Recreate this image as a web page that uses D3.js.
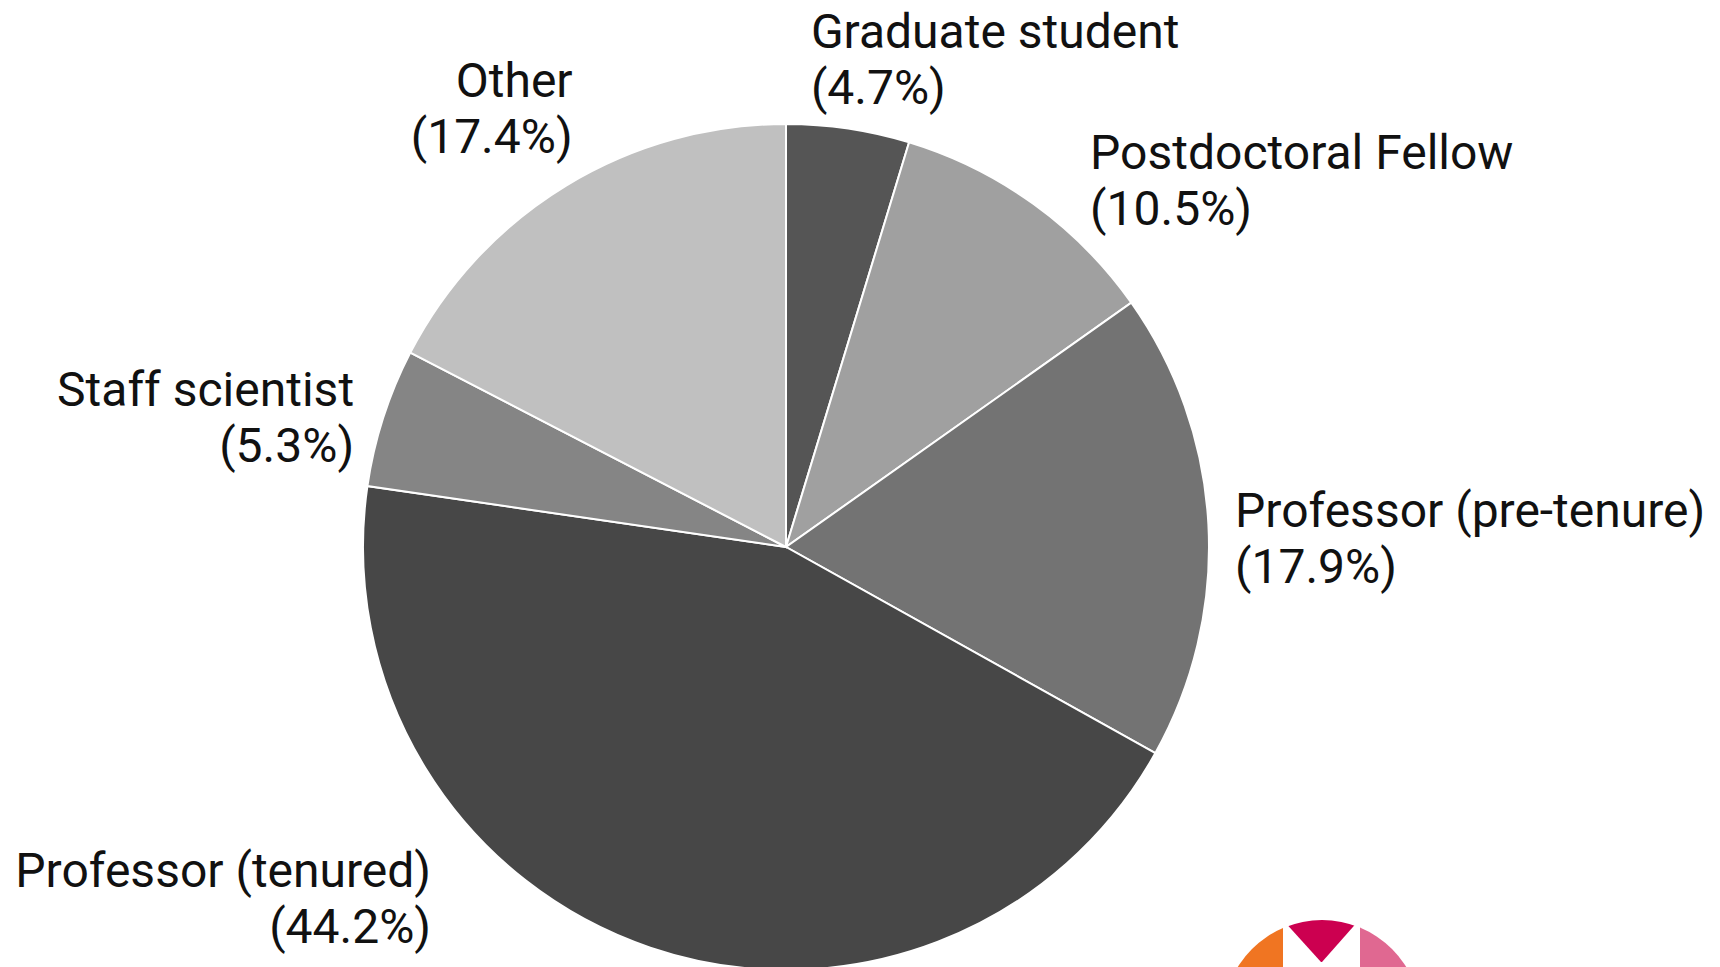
<!DOCTYPE html>
<html>
<head>
<meta charset="utf-8">
<script src="https://cdn.jsdelivr.net/npm/d3@7"></script>
<style>
  html, body { margin: 0; padding: 0; background: #fff; overflow: hidden; }
  text { font-family: Roboto, "Noto Sans", sans-serif; fill: #111; }
</style>
</head>
<body>
<svg id="chart" width="1720" height="967"></svg>
<script>
// data
const categories = ["Graduate student", "Postdoctoral Fellow", "Professor (pre-tenure)",
                    "Professor (tenured)", "Staff scientist", "Other"];
const shares = [4.7, 10.5, 17.9, 44.2, 5.3, 17.4];
const sliceColors = ["#555555", "#a0a0a0", "#737373", "#474747", "#858585", "#c0c0c0"];

// label nudges from the outer-arc anchor point (layout only)
const labelNudge = [[-42, -49], [38, -9], [-5, 4], [-209, -91], [1, -2], [23, -62]];

const svg = d3.select("#chart");
const cx = 786, cy = 547, radius = 423;

const g = svg.append("g").attr("transform", "translate(" + cx + "," + cy + ")");

const pie = d3.pie().sort(null).value(d => d.value);
const arc = d3.arc().innerRadius(0).outerRadius(radius);
const outer = d3.arc().innerRadius(radius * 1.075).outerRadius(radius * 1.075);

const data = categories.map((c, i) => ({ name: c, value: shares[i], color: sliceColors[i], nudge: labelNudge[i] }));

const slices = g.selectAll(".arc")
  .data(pie(data))
  .enter().append("g")
    .attr("class", "arc");

slices.append("path")
    .attr("d", arc)
    .attr("fill", d => d.data.color)
    .attr("stroke", "#fff")
    .attr("stroke-width", 2);

const fmt = d3.format(".1f");

const labels = g.selectAll(".lbl")
  .data(pie(data))
  .enter().append("text")
    .attr("class", "lbl")
    .attr("font-size", 48)
    .attr("text-anchor", d => {
      const mid = (d.startAngle + d.endAngle) / 2;
      return Math.sin(mid) >= 0 ? "start" : "end";
    })
    .attr("transform", d => {
      const p = outer.centroid(d);
      return "translate(" + (p[0] + d.data.nudge[0]) + "," + (p[1] + d.data.nudge[1]) + ")";
    });

labels.append("tspan").attr("x", 0).attr("y", 0).text(d => d.data.name);
labels.append("tspan").attr("x", 0).attr("y", 56).text(d => "(" + fmt(d.data.value) + "%)");

// logo, bottom right (partly off-canvas)
const logo = svg.append("g").attr("transform", "translate(1322,1019)");
logo.append("clipPath").attr("id", "logoClip")
  .append("circle").attr("r", 99);
const lg = logo.append("g").attr("clip-path", "url(#logoClip)");
lg.append("rect").attr("x", -100).attr("y", -100).attr("width", 61).attr("height", 200).attr("fill", "#f07522");
lg.append("rect").attr("x", 38).attr("y", -100).attr("width", 62).attr("height", 200).attr("fill", "#e06891");
lg.append("path")
  .attr("d", d3.line()([[-40, -100], [38, -100], [0, -57], [-1, -57]]) + "Z")
  .attr("fill", "#cc0050");
</script>
</body>
</html>
